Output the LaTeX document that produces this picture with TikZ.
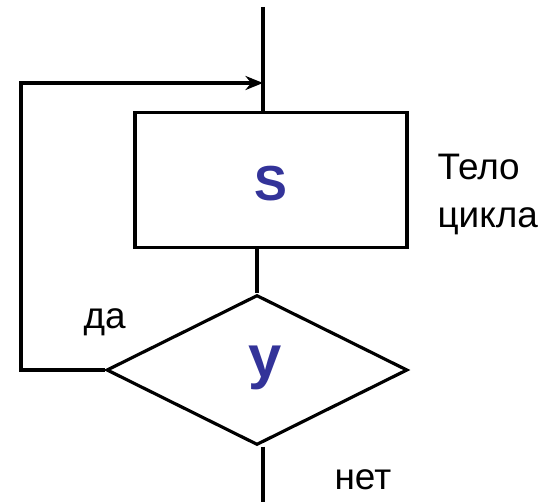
\documentclass[tikz,border=0pt]{standalone}
\usepackage{fontspec}
\setmainfont{Liberation Sans}
\usetikzlibrary{shapes.geometric,arrows.meta}
\definecolor{letterblue}{RGB}{51,51,153}

\begin{document}
\begin{tikzpicture}[x=0.02cm,y=-0.02cm,line width=1.8pt,
  blockbox/.style={draw,rectangle,minimum width=5.44cm,minimum height=2.7cm,inner sep=0pt},
  testbox/.style={draw,diamond,minimum width=6.02cm,minimum height=3cm,inner sep=0pt},
  lbl/.style={font=\fontsize{21}{25}\selectfont,inner sep=0pt}]

\useasboundingbox (0,0) rectangle (543,502);

\coordinate (top) at (263,7);
\coordinate (back) at (21,83);
\coordinate (exit) at (263,502);

\node [blockbox] (body) at (271,180) {};
\node [testbox] (cond) at (257,370) {};

\node [font=\bfseries\fontsize{28}{32}\selectfont,text=letterblue] (s) at (271,184) {S};
\node [font=\bfseries\fontsize{34}{38}\selectfont,text=letterblue] (y) at (265,368) {у};

\node [lbl,anchor=base west] (t1) at (436,180) {Тело};
\node [lbl,anchor=base west] (t2) at (436,228) {цикла};
\node [lbl,anchor=base west] (yes) at (82,329) {да};
\node [lbl,anchor=base west] (no) at (333,489) {нет};

\draw (top) -- (top |- body.north);
\draw (cond.north |- body.south) -- (cond.north);
\draw (exit |- cond.south) -- (exit);
\draw [-{Stealth[length=10pt,width=8pt]}] (cond.west) -| (back) -- (top |- back);
\end{tikzpicture}
\end{document}
